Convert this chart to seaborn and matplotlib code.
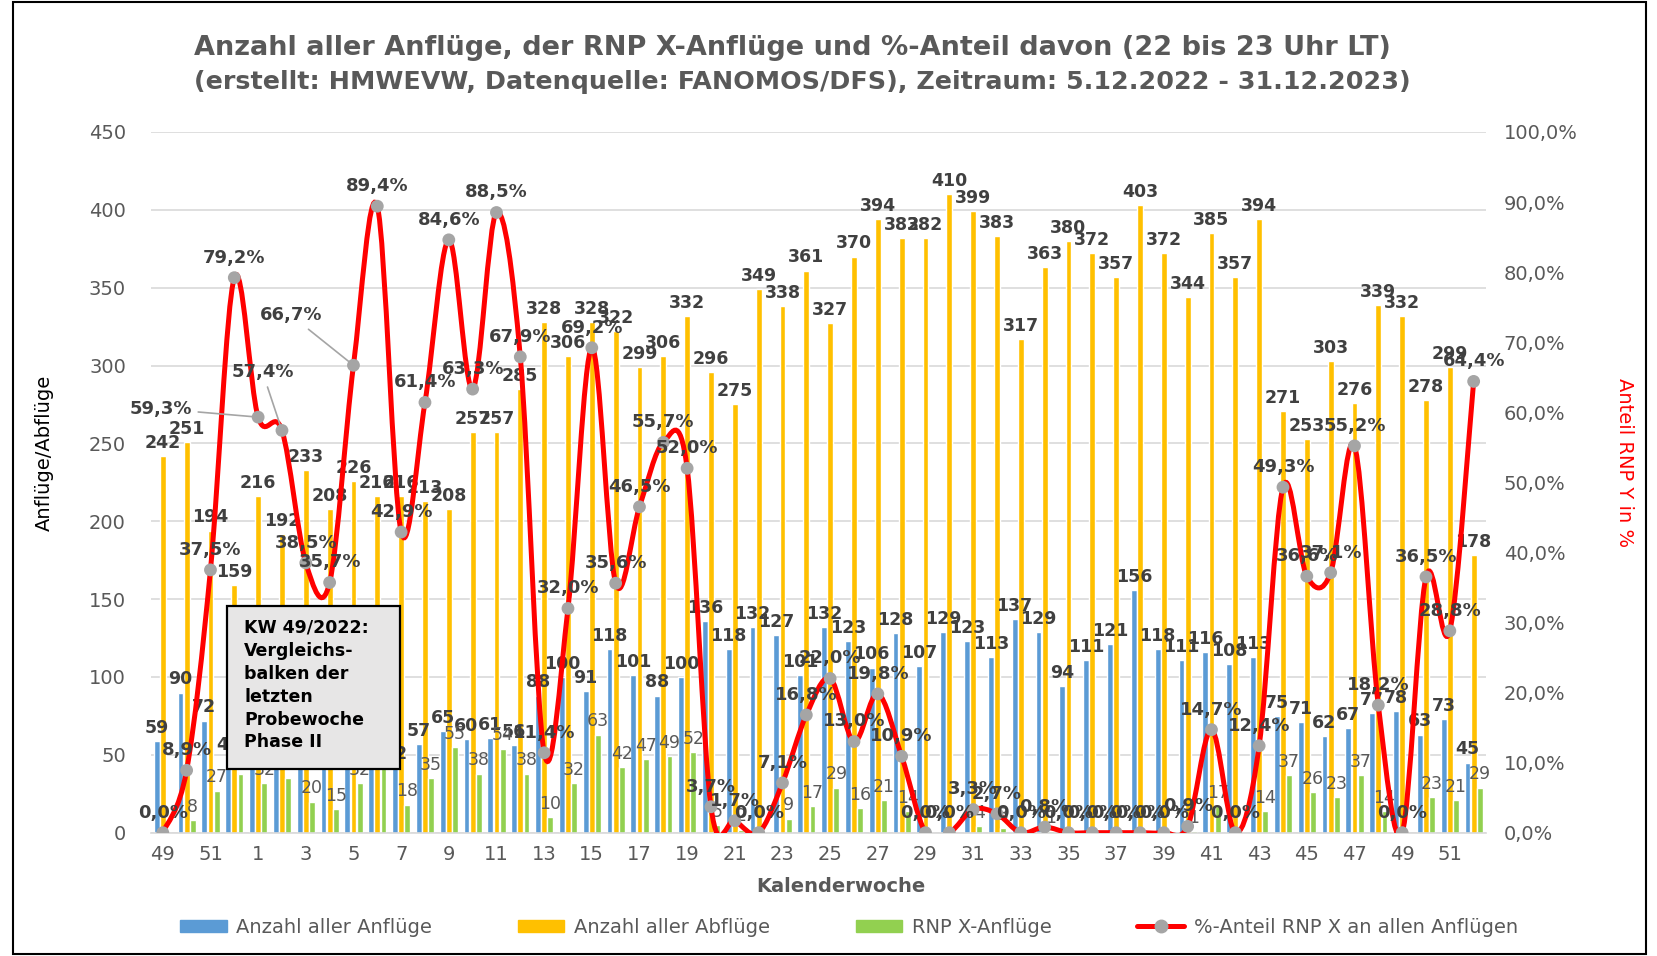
import numpy as np
import pandas as pd
import matplotlib.pyplot as plt
import seaborn as sns
from matplotlib.path import Path
from matplotlib.patches import PathPatch, Rectangle, Patch
from matplotlib.lines import Line2D

# Kalenderwochen 49/2022 bis 52/2023
weeks = [49, 50, 51, 52, 1, 2, 3, 4, 5, 6, 7, 8, 9, 10, 11, 12, 13, 14, 15, 16,
         17, 18, 19, 20, 21, 22, 23, 24, 25, 26, 27, 28, 29, 30, 31, 32, 33, 34,
         35, 36, 37, 38, 39, 40, 41, 42, 43, 44, 45, 46, 47, 48, 49, 50, 51, 52]
anfluege = [59, 90, 72, 48, 54, 61, 52, 42, 48, 47, 42, 57, 65, 60, 61, 56, 88, 100,
            91, 118, 101, 88, 100, 136, 118, 132, 127, 101, 132, 123, 106, 128, 107,
            129, 123, 113, 137, 129, 94, 111, 121, 156, 118, 111, 116, 108, 113, 75,
            71, 62, 67, 77, 78, 63, 73, 45]
abfluege = [242, 251, 194, 159, 216, 192, 233, 208, 226, 216, 216, 213, 208, 257, 257,
            285, 328, 306, 328, 322, 299, 306, 332, 296, 275, 349, 338, 361, 327, 370,
            394, 382, 382, 410, 399, 383, 317, 363, 380, 372, 357, 403, 372, 344, 385,
            357, 394, 271, 253, 303, 276, 339, 332, 278, 299, 178]
rnp = [0, 8, 27, 38, 32, 35, 20, 15, 32, 42, 18, 35, 55, 38, 54, 38, 10, 32, 63, 42,
       47, 49, 52, 5, 2, 0, 9, 17, 29, 16, 21, 14, 0, 0, 4, 3, 0, 1, 0, 0, 0, 0, 0, 1,
       17, 0, 14, 37, 26, 23, 37, 14, 0, 23, 21, 29]
pct = [0.0, 8.9, 37.5, 79.2, 59.3, 57.4, 38.5, 35.7, 66.7, 89.4, 42.9, 61.4, 84.6,
       63.3, 88.5, 67.9, 11.4, 32.0, 69.2, 35.6, 46.5, 55.7, 52.0, 3.7, 1.7, 0.0, 7.1,
       16.8, 22.0, 13.0, 19.8, 10.9, 0.0, 0.0, 3.3, 2.7, 0.0, 0.8, 0.0, 0.0, 0.0, 0.0,
       0.0, 0.9, 14.7, 0.0, 12.4, 49.3, 36.6, 37.1, 55.2, 18.2, 0.0, 36.5, 28.8, 64.4]

series = ['Anzahl aller Anflüge', 'Anzahl aller Abflüge', 'RNP X-Anflüge']
colors = ['#5b9bd5', '#ffc000', '#92d050']
txt = '#404040'
grey = '#595959'

pos = list(range(len(weeks)))
df = pd.DataFrame({
    'pos': pos * 3,
    'wert': anfluege + abfluege + rnp,
    'reihe': [s for s in series for _ in pos],
})

sns.set_theme(style='white')
plt.rcParams['font.family'] = ['DejaVu Sans']

fig = plt.figure(figsize=(16.58, 9.56), dpi=100)
ax = fig.add_axes([0.091, 0.129, 0.805, 0.733])

sns.barplot(data=df, x='pos', y='wert', hue='reihe', hue_order=series,
            palette=colors, saturation=1, width=0.78, gap=0.06, errorbar=None,
            legend=False, ax=ax, zorder=2)

ax.set_xlim(-0.5, len(weeks) - 0.5)
ax.set_ylim(0, 450)
ax.set_yticks(range(0, 451, 50))
ax.yaxis.grid(True, color='#d9d9d9', lw=1.2, zorder=0)
ax.set_axisbelow(True)
ax.set_xticks(pos[::2])
ax.set_xticklabels([str(w) for w in weeks[::2]])
ax.tick_params(axis='x', length=0, pad=9, labelsize=14, labelcolor=grey)
ax.tick_params(axis='y', length=0, pad=18, labelsize=14, labelcolor=grey)
ax.set_xlabel('')
ax.set_ylabel('')
for s in ['top', 'left', 'right']:
    ax.spines[s].set_visible(False)
ax.spines['bottom'].set_color('#d9d9d9')
ax.spines['bottom'].set_linewidth(1.2)

# Werte an den Balken
for i, cont in enumerate(ax.containers):
    vals = [anfluege, abfluege, rnp][i]
    labels = [str(v) if v > 0 else '' for v in vals]
    if i < 2:
        ax.bar_label(cont, labels=labels, padding=3, fontsize=12.5,
                     fontweight='bold', color=txt)
    else:
        ax.bar_label(cont, labels=labels, padding=3, fontsize=12.5, color=grey)

# Prozent-Anteil auf zweiter Achse
ax2 = ax.twinx()
ax2.set_ylim(0, 1)
ax2.set_yticks(np.arange(0, 1.01, 0.1))
ax2.set_yticklabels([f'{v:.1f}'.replace('.', ',') + '%' for v in np.arange(0, 101, 10)])
ax2.tick_params(axis='y', length=0, pad=13, labelsize=14, labelcolor=grey)
for s in ['top', 'left', 'right', 'bottom']:
    ax2.spines[s].set_visible(False)

# geglättete Linie wie in Excel (Bezier durch die Messpunkte)
p = np.column_stack([pos, np.array(pct) / 100])
ext = np.vstack([p[0], p, p[-1]])
verts = [tuple(p[0])]
codes = [Path.MOVETO]
for i in range(len(p) - 1):
    c1 = ext[i + 1] + (ext[i + 2] - ext[i]) / 6
    c2 = ext[i + 2] - (ext[i + 3] - ext[i + 1]) / 6
    verts += [tuple(c1), tuple(c2), tuple(p[i + 1])]
    codes += [Path.CURVE4] * 3
ax2.add_patch(PathPatch(Path(verts, codes), facecolor='none', edgecolor='#ff0000',
                        lw=3.6, zorder=3, capstyle='round'))
sns.scatterplot(x=pos, y=np.array(pct) / 100, ax=ax2, color='#a5a5a5', s=85,
                edgecolor='none', zorder=4, legend=False)

special = {4: (-70, 6), 5: (-14, 42), 8: (-45, 36)}
for i, v in enumerate(pct):
    lab = f'{v:.1f}'.replace('.', ',') + '%'
    if i in special:
        ax2.annotate(lab, (i, v / 100), xytext=special[i], textcoords='offset points',
                     ha='center', va='center', fontsize=13, fontweight='bold',
                     color=txt, zorder=5,
                     arrowprops=dict(arrowstyle='-', color='#a5a5a5', lw=1.2,
                                     shrinkA=2, shrinkB=4))
    else:
        ax2.annotate(lab, (i, v / 100), xytext=(0, 8), textcoords='offset points',
                     ha='center', va='bottom', fontsize=13, fontweight='bold',
                     color=txt, zorder=5)

# Hinweisbox
ax2.add_patch(Rectangle((0.057, 0.091), 0.13, 0.233, transform=ax2.transAxes,
                        facecolor='#e7e6e6', edgecolor='black', lw=1.6, zorder=6))
ax2.text(0.07, 0.305, 'KW 49/2022:\nVergleichs-\nbalken der\nletzten\nProbewoche\nPhase II',
         transform=ax2.transAxes, ha='left', va='top', fontsize=12.5,
         fontweight='bold', color='black', linespacing=1.35, zorder=7)

# Titel und Achsentitel
fig.text(0.117, 0.950, 'Anzahl aller Anflüge, der RNP X-Anflüge und %-Anteil davon (22 bis 23 Uhr LT)',
         ha='left', va='center', fontsize=19.5, fontweight='bold', color=grey)
fig.text(0.117, 0.914, '(erstellt: HMWEVW, Datenquelle: FANOMOS/DFS), Zeitraum: 5.12.2022 - 31.12.2023)',
         ha='left', va='center', fontsize=18.3, fontweight='bold', color=grey)
fig.text(0.027, 0.526, 'Anflüge/Abflüge', rotation=90, ha='center', va='center',
         fontsize=14, color='black')
fig.text(0.98, 0.516, 'Anteil RNP Y in %', rotation=270, ha='center', va='center',
         fontsize=14, color='#ff0000')
fig.text(0.507, 0.073, 'Kalenderwoche', ha='center', va='center', fontsize=14,
         fontweight='bold', color=grey)

handles = [Patch(color=c) for c in colors]
handles.append(Line2D([], [], color='#ff0000', lw=3.6, marker='o', markersize=9,
                      markerfacecolor='#a5a5a5', markeredgecolor='#a5a5a5'))
fig.legend(handles, series + ['%-Anteil RNP X an allen Anflügen'], loc='center',
           bbox_to_anchor=(0.512, 0.03), ncol=4, frameon=False, fontsize=14,
           labelcolor=grey, handlelength=2.4, handleheight=0.6, columnspacing=4.4,
           handletextpad=0.5)

# Rahmen
fig.add_artist(Rectangle((0.008, 0.002), 0.985, 0.996, transform=fig.transFigure,
                         facecolor='none', edgecolor='black', lw=1.5))

fig.savefig('out.png', dpi=100)
